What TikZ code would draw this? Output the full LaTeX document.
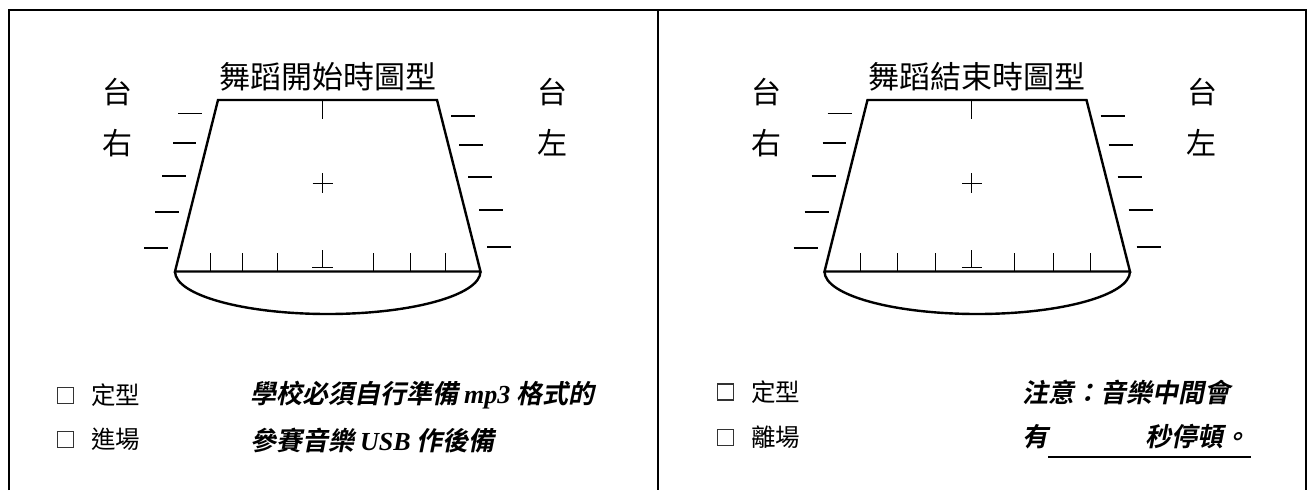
\documentclass[tikz,border=0pt]{standalone}
\usepackage{fontspec}
\newfontfamily\cjk{Noto Sans CJK TC}
\newfontfamily\cjkbi[FakeSlant=0.2]{Noto Sans CJK TC Bold}
\newfontfamily\lsbi{Liberation Serif}
\newcommand\stagepanel[4]{%
\begin{scope}[xshift=#1]
  \node[titletext] (#2title) at (327.75,76.5) {#3};
  \node[sidetext] (#2taiL) at (117,92) {台};
  \node[sidetext] (#2youR) at (117,143) {右};
  \node[sidetext] (#2taiR) at (552.5,92.5) {台};
  \node[sidetext] (#2zuoL) at (552,143) {左};
  \coordinate (#2tl) at (218,100);
  \coordinate (#2tr) at (437,100);
  \coordinate (#2br) at (480.5,271.5);
  \coordinate (#2bl) at (175,271.5);
  \coordinate (#2ab) at (327.75,314);
  \draw[stageline] (#2tl) -- (#2tr) -- (#2br) -- (#2bl) -- cycle;
  \draw[stageline] (#2bl) .. controls +(0,23.5) and +(-84.35,0) .. (#2ab)
                          .. controls +(84.35,0) and +(0,23.5) .. (#2br);
  \foreach \a/\b/\y in {178/202/113.3,173/196/143,162/186/176,155/179/212,144/168/248,
                        451/475/116,459/483/145,468/492/177,479/503/210,487/511/247}
    \draw[dashmark] (\a,\y) -- (\b,\y);
  \draw[thinline] (322,101) -- (322,119);
  \draw[thinline] (312.5,183) -- (332.5,183) (322,173) -- (322,193);
  \foreach \t in {#4}
    \draw[thinline] (\t,253.3) -- (\t,271.5);
  \draw[thinline] (322.3,250) -- (322.3,267.7) (312.3,267.7) -- (332.7,267.7);
\end{scope}}
\begin{document}
\begin{tikzpicture}[x=1pt,y=-1pt,
  frameline/.style={line width=2pt},
  stageline/.style={line width=2.4pt,line join=miter},
  thinline/.style={line width=1pt},
  dashmark/.style={line width=1.3pt},
  titletext/.style={inner sep=0pt,font=\cjk\fontsize{31}{31}\selectfont},
  sidetext/.style={inner sep=0pt,font=\cjk\fontsize{30}{30}\selectfont},
  opttext/.style={inner sep=0pt,anchor=west,font=\cjk\fontsize{24.5}{24.5}\selectfont},
  boxmark/.style={draw=black!80,line width=1.1pt,minimum size=16pt,inner sep=0pt},
  notetext/.style={inner sep=0pt,anchor=west,font=\cjkbi\fontsize{26}{26}\selectfont}]
\useasboundingbox (0,0) rectangle (1309,490);
% frame
\coordinate (fbl) at (9,490);
\coordinate (ftl) at (9,9.5);
\coordinate (ftm) at (657.7,9.5);
\coordinate (fbm) at (657.7,490);
\coordinate (ftr) at (1306,9.5);
\coordinate (fbr) at (1306,490);
\draw[frameline] (fbl) -- (ftl) -- (ftr) -- (fbr);
\draw[frameline] (ftm) -- (fbm);
% panels
\stagepanel{0pt}{L}{舞蹈開始時圖型}{210.7,242.7,277.3,373.3,410,445}
\stagepanel{649.5pt}{R}{舞蹈結束時圖型}{210.9,247.5,285.5,365,403.5,441}
% left bottom
\node[boxmark] (Lbox1) at (65.5,395.5) {};
\node[opttext] (Lopt1) at (91,395) {定型};
\node[boxmark] (Lbox2) at (65.5,439.5) {};
\node[opttext] (Lopt2) at (91,439.5) {進場};
\node[notetext] (Lnote1) at (250,395) {學校必須自行準備 {\lsbi\bfseries\itshape mp3} 格式的};
\node[notetext] (Lnote2) at (250,441) {參賽音樂 {\lsbi\bfseries\itshape USB} 作後備};
% right bottom
\node[boxmark] (Rbox1) at (725.5,392) {};
\node[opttext] (Ropt1) at (751,392) {定型};
\node[boxmark] (Rbox2) at (725.5,437.5) {};
\node[opttext] (Ropt2) at (751,437.5) {離場};
\node[notetext] (Rnote1) at (1022,392) {注意：音樂中間會};
\node[notetext] (Rnote2) at (1022,437) {有};
\node[notetext,anchor=east] (Rnote3) at (1250,437) {秒停頓。};
\coordinate (ulend) at (1251,457);
\draw[line width=2pt] (Rnote2.east |- ulend) -- (ulend);
\end{tikzpicture}
\end{document}
